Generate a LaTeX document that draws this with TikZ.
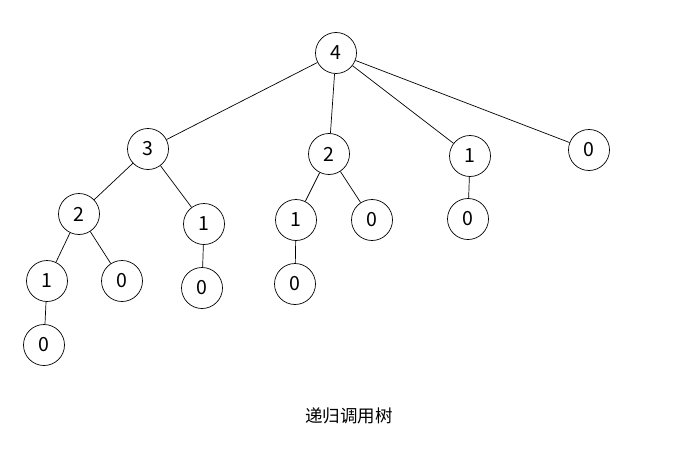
\documentclass[tikz,border=0pt]{standalone}
\usepackage{fontspec}
\setmainfont{Noto Sans CJK SC}
\usetikzlibrary{positioning}
\tikzset{
    callnode/.style={circle, draw=black, line width=0.7pt, minimum size=41pt,
        inner sep=0pt, font=\fontsize{19.5}{19.5}\selectfont},
    edge/.style={line width=0.7pt},
    caption/.style={font=\fontsize{17.5}{17.5}\selectfont}
}

\begin{document}
\begin{tikzpicture}[x=1pt, y=-1pt]

    \useasboundingbox (0,0) rectangle (687,468);

    % level 0
    \node[callnode] (n4) at (336,53) {4};

    % level 1
    \node[callnode] (n3) at (148,149) {3};
    \node[callnode] (n2) at (329,154) {2};
    \node[callnode] (n1) at (470,156) {1};
    \node[callnode] (n0) at (589,150) {0};

    % level 2
    \node[callnode] (n32) at (79,214) {2};
    \node[callnode] (n31) at (204,224) {1};
    \node[callnode] (n21) at (296,220) {1};
    \node[callnode] (n20) at (372,220) {0};
    \node[callnode] (n10) at (468,219) {0};

    % level 3
    \node[callnode] (n321) at (47,281) {1};
    \node[callnode] (n320) at (122,281) {0};
    \node[callnode] (n310) at (202,288) {0};
    \node[callnode] (n210) at (295,284) {0};

    % level 4
    \node[callnode] (n3210) at (44,345) {0};

    \node[caption] (title) at (349,416) {递归调用树};

    \draw[edge] (n4) -- (n3);
    \draw[edge] (n4) -- (n2);
    \draw[edge] (n4) -- (n1);
    \draw[edge] (n4) -- (n0);
    \draw[edge] (n3) -- (n32);
    \draw[edge] (n3) -- (n31);
    \draw[edge] (n2) -- (n21);
    \draw[edge] (n2) -- (n20);
    \draw[edge] (n1) -- (n10);
    \draw[edge] (n32) -- (n321);
    \draw[edge] (n32) -- (n320);
    \draw[edge] (n31) -- (n310);
    \draw[edge] (n21) -- (n210);
    \draw[edge] (n321) -- (n3210);

\end{tikzpicture}
\end{document}
